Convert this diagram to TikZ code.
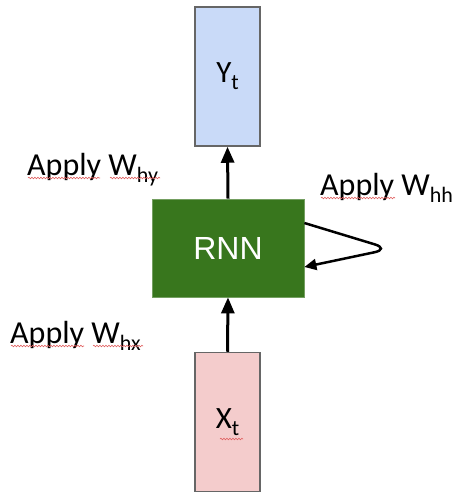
\documentclass[tikz,border=0pt]{standalone}
\usepackage{fontspec}
\setmainfont{Carlito}
\newfontfamily\rnnfont{Liberation Sans}
\usetikzlibrary{arrows.meta,decorations.pathmorphing}
\definecolor{yfill}{HTML}{C9DAF8}
\definecolor{xfill}{HTML}{F4CCCC}
\definecolor{rnngreen}{HTML}{38761D}
\definecolor{boxline}{HTML}{666666}
\definecolor{squig}{HTML}{E06060}
\tikzset{
  vecbox/.style={draw=boxline,line width=1.5pt,minimum width=65pt,minimum height=139pt,inner sep=0pt,font=\fontsize{31}{31}\selectfont},
  rnnbox/.style={fill=rnngreen,draw=rnngreen!70!white,line width=0.8pt,minimum width=152pt,minimum height=98pt,inner sep=0pt,text=white,font=\rnnfont\fontsize{32}{32}\selectfont},
  flow/.style={line width=3pt,-{Triangle[length=16pt,width=13pt]}},
  loopflow/.style={line width=2.5pt,rounded corners=16pt,-{Triangle[length=12pt,width=11pt]}},
  lbl/.style={anchor=base west,inner sep=0pt,font=\fontsize{32}{32}\selectfont},
  spell/.style={draw=squig,line width=0.6pt,decorate,decoration={snake,amplitude=0.8pt,segment length=3pt}}
}
\newcommand{\sbs}[1]{\raisebox{-7pt}{\fontsize{22}{22}\selectfont #1}}
\begin{document}
\begin{tikzpicture}[x=1pt,y=-1pt]
\useasboundingbox (0,0) rectangle (455,492);
\node[vecbox,fill=yfill] (y) at (227.5,76.5) {Y\sbs{t}};
\node[rnnbox] (rnn) at (228,248) {RNN};
\node[vecbox,fill=xfill] (x) at (227.5,422) {X\sbs{t}};
\draw[flow] (rnn.north) -- (y.south);
\draw[flow] (x.north) -- (rnn.south);
\coordinate (lp) at (390,249);
\draw[loopflow] ([yshift=25pt]rnn.east) -- (lp) -- ([yshift=-19pt]rnn.east);
\node[lbl] (lhy) at (27,175) {Apply W\sbs{hy}};
\node[lbl] (lhh) at (320,195) {Apply W\sbs{hh}};
\node[lbl] (lhx) at (10,343) {Apply W\sbs{hx}};
% spell-check squiggles
\draw[spell] (28,178) -- (100,178);
\draw[spell] (110,178) -- (160,178);
\draw[spell] (321,198) -- (395,198);
\draw[spell] (11,346) -- (84,346);
\draw[spell] (93,346) -- (143,346);
\draw[spell] (220,439) -- (243,439);
\end{tikzpicture}
\end{document}
